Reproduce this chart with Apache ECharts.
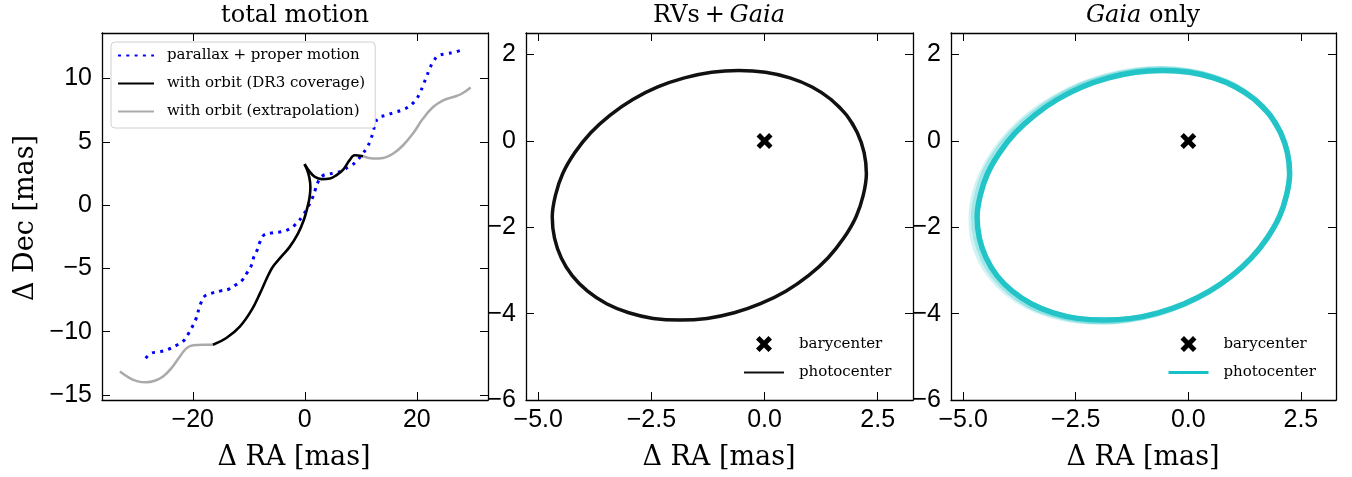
<!DOCTYPE html>
<html><head><meta charset="utf-8">
<script src="https://cdn.jsdelivr.net/npm/echarts@6/dist/echarts.min.js"></script>
<style>html,body{margin:0;padding:0;background:#fff}#c{width:1352px;height:477px}</style>
</head><body><div id="c"></div>
<script>
// ---- data ----
const pmTrack = [[-28.4,-12.1],[-27.4,-11.7],[-25.9,-11.6],[-24.4,-11.4],[-23.0,-11.1],[-21.8,-10.8],[-20.9,-10.25],[-20.2,-9.7],[-19.5,-9.07],[-18.6,-7.8],[-17.9,-7.2],[-16.7,-6.97],[-15.05,-6.78],[-13.6,-6.65],[-12.3,-6.3],[-11.1,-5.9],[-10.3,-5.34],[-9.5,-4.73],[-9.1,-4.1],[-8.45,-3.5],[-8.0,-2.9],[-7.3,-2.37],[-5.7,-2.18],[-4.2,-2.1],[-2.8,-1.9],[-1.6,-1.5],[-0.5,-0.92],[0.5,-0.2],[1.3,0.5],[1.9,1.25],[2.5,1.95],[3.3,2.35],[4.3,2.45],[5.3,2.55],[6.55,2.7],[8.0,3.07],[9.1,3.4],[10.1,3.94],[11.0,4.47],[11.7,5.1],[12.2,5.8],[12.5,6.3],[13.1,6.9],[14.5,7.1],[15.8,7.3],[17.3,7.5],[18.45,7.75],[19.6,8.2],[20.5,8.8],[21.1,9.46],[21.7,10.1],[22.3,10.8],[22.9,11.3],[23.8,11.8],[25.3,11.96],[26.8,12.1],[28.3,12.3]];
const orbitDR3Rise = [[-16.4,-11.04],[-14.0,-10.5],[-11.6,-9.6],[-9.5,-8.3],[-8.0,-6.97],[-6.8,-5.8],[-5.7,-4.87],[-4.2,-4.07],[-2.7,-3.3],[-1.2,-2.23],[-0.18,-1.18],[0.45,-0.2],[0.85,0.6],[1.0,1.44],[0.8,2.2],[0.35,2.85],[-0.05,3.23]];
const orbitDR3Loop = [[-0.05,3.23],[0.9,2.63],[1.8,2.23],[3.0,2.05],[4.5,2.1],[5.65,2.37],[6.85,2.8],[8.0,3.55],[8.9,3.94],[10.4,3.86]];
const orbitExtrapBefore = [[-33.0,-13.15],[-31.25,-13.67],[-29.8,-13.93],[-28.3,-14.0],[-26.8,-13.88],[-25.3,-13.54],[-23.8,-12.88],[-22.3,-11.96],[-21.1,-11.3],[-19.9,-11.07],[-18.2,-11.04],[-16.4,-11.04]];
const orbitExtrapAfter = [[10.4,3.86],[12.2,3.68],[14.0,3.73],[15.8,4.08],[17.55,4.73],[19.3,5.65],[21.1,6.84],[22.9,7.75],[24.7,8.28],[26.5,8.54],[28.0,8.8],[29.6,9.3]];
// photocenter orbit (closed loop; first points repeated so the smoothed loop has no seam)
const photocenterOrbit = [[2.05,0.19],[1.81,0.60],[1.47,0.96],[1.05,1.25],[0.56,1.46],[0.02,1.59],[-0.57,1.63],[-1.17,1.59],[-1.77,1.46],[-2.36,1.25],[-2.91,0.96],[-3.41,0.60],[-3.84,0.19],[-4.19,-0.27],[-4.46,-0.76],[-4.62,-1.26],[-4.69,-1.76],[-4.64,-2.25],[-4.49,-2.71],[-4.25,-3.12],[-3.91,-3.48],[-3.49,-3.77],[-3.00,-3.98],[-2.46,-4.11],[-1.87,-4.15],[-1.27,-4.11],[-0.67,-3.98],[-0.09,-3.77],[0.47,-3.48],[0.97,-3.12],[1.40,-2.71],[1.75,-2.25],[2.02,-1.76],[2.18,-1.26],[2.25,-0.76],[2.20,-0.27],[2.05,0.19],[1.81,0.60],[1.47,0.96]];
// spread of the Gaia-only posterior orbits (closed loops)
const gaiaOrbitMid = [[2.05,0.20],[1.80,0.62],[1.46,0.98],[1.04,1.28],[0.54,1.49],[-0.01,1.62],[-0.60,1.67],[-1.21,1.62],[-1.82,1.49],[-2.41,1.28],[-2.97,0.98],[-3.47,0.62],[-3.91,0.20],[-4.27,-0.26],[-4.54,-0.75],[-4.70,-1.26],[-4.77,-1.77],[-4.72,-2.26],[-4.57,-2.72],[-4.32,-3.14],[-3.98,-3.50],[-3.56,-3.80],[-3.06,-4.01],[-2.51,-4.14],[-1.92,-4.19],[-1.31,-4.14],[-0.70,-4.01],[-0.11,-3.80],[0.45,-3.50],[0.95,-3.14],[1.39,-2.72],[1.75,-2.26],[2.02,-1.77],[2.18,-1.26],[2.25,-0.75],[2.20,-0.26],[2.05,0.20]];
const gaiaOrbitOuter = [[2.06,0.22],[1.80,0.65],[1.46,1.01],[1.03,1.31],[0.52,1.53],[-0.03,1.66],[-0.63,1.70],[-1.25,1.66],[-1.86,1.53],[-2.46,1.31],[-3.03,1.01],[-3.54,0.65],[-3.99,0.22],[-4.35,-0.25],[-4.62,-0.75],[-4.79,-1.26],[-4.85,-1.77],[-4.81,-2.27],[-4.66,-2.74],[-4.40,-3.17],[-4.06,-3.53],[-3.63,-3.83],[-3.12,-4.05],[-2.57,-4.18],[-1.97,-4.22],[-1.35,-4.18],[-0.74,-4.05],[-0.14,-3.83],[0.43,-3.53],[0.94,-3.17],[1.39,-2.74],[1.75,-2.27],[2.02,-1.77],[2.19,-1.26],[2.25,-0.75],[2.21,-0.25],[2.06,0.22]];
const barycenter = [[0,0]];
const motionTicksX = [-20,0,20];
const motionTicksY = [-15,-10,-5,0,5,10];
const orbitTicksX = [-5,-2.5,0,2.5];
const orbitTicksY = [-6,-4,-2,0,2];

// ---- helpers ----
const MINUS = '\u2212';
const fmt = d => v => (v < 0 ? MINUS : '') + Math.abs(v).toFixed(d);
const TICKFONT = {fontFamily:'Liberation Sans', fontSize:25, color:'#000'};
const SERIF = 'DejaVu Serif';
const XMARK = 'path://M0,3.5 L3.5,0 L8,4.5 L12.5,0 L16,3.5 L11.5,8 L16,12.5 L12.5,16 L8,11.5 L3.5,16 L0,12.5 L4.5,8 Z';
const CYAN = '#1cc3c6';

function axisPair(kind, gi, min, max, ticks, d) {
  const base = () => ({
    type:'value', gridIndex:gi, min:min, max:max, scale:true,
    splitLine:{show:false},
    axisLine:{show:true, onZero:false, lineStyle:{color:'#000', width:1.3}},
    axisTick:{show:true, inside:true, length:8, lineStyle:{color:'#000', width:1}, customValues:ticks}
  });
  const a = base(), b = base();
  if (kind === 'x') { a.position = 'bottom'; b.position = 'top'; }
  else { a.position = 'left'; b.position = 'right'; }
  a.axisLabel = Object.assign({show:true, customValues:ticks, formatter:fmt(d), margin:kind==='x'?8:10}, TICKFONT);
  b.axisLabel = {show:false};
  return [a, b];
}

const grids = [
  {left:102, top:33, width:386, height:367},
  {left:526, top:33, width:387, height:367},
  {left:951, top:33, width:385, height:367}
];
const xAxis = [].concat(
  axisPair('x', 0, -36.2, 32.7, motionTicksX, 0),
  axisPair('x', 1, -5.27, 3.28, orbitTicksX, 1),
  axisPair('x', 2, -5.27, 3.28, orbitTicksX, 1)
);
const yAxis = [].concat(
  axisPair('y', 0, -15.4, 13.6, motionTicksY, 0),
  axisPair('y', 1, -6, 2.5, orbitTicksY, 0),
  axisPair('y', 2, -6, 2.5, orbitTicksY, 0)
);

const lineSeries = (name, data, xi, color, width, extra) => Object.assign({
  type:'line', name:name, data:data, xAxisIndex:xi, yAxisIndex:xi,
  symbol:'none', smooth:0.3, lineStyle:{color:color, width:width}, itemStyle:{color:color}
}, extra || {});

const series = [
  lineSeries('with orbit (extrapolation)', orbitExtrapBefore, 0, '#aaaaaa', 2.5, {smooth:0.4}),
  lineSeries('with orbit (extrapolation)', orbitExtrapAfter, 0, '#aaaaaa', 2.5, {smooth:0.4}),
  lineSeries('parallax + proper motion', pmTrack, 0, '#0000ff', 3, {smooth:0.4, lineStyle:{color:'#0000ff', width:3, type:[3,5.3]}}),
  lineSeries('with orbit (DR3 coverage)', orbitDR3Rise, 0, '#000000', 2.6, {smooth:0.4}),
  lineSeries('with orbit (DR3 coverage)', orbitDR3Loop, 0, '#000000', 2.6, {smooth:0.4}),
  // panel 2
  lineSeries('photocenter', photocenterOrbit, 2, '#111111', 3.5),
  {type:'scatter', name:'barycenter', data:barycenter, xAxisIndex:2, yAxisIndex:2, symbol:XMARK, symbolSize:16, itemStyle:{color:'#000', opacity:1}, z:5},
  // panel 3
  lineSeries('gaiaOuter', gaiaOrbitOuter, 4, CYAN, 3, {lineStyle:{color:CYAN, width:3, opacity:0.2}}),
  lineSeries('gaiaMid', gaiaOrbitMid, 4, CYAN, 5, {lineStyle:{color:CYAN, width:5, opacity:0.4}}),
  lineSeries('photocenter ', photocenterOrbit, 4, CYAN, 5.5, {lineStyle:{color:'#22c4c7', width:5.5, opacity:1}}),
  {type:'scatter', name:'barycenter ', data:barycenter, xAxisIndex:4, yAxisIndex:4, symbol:XMARK, symbolSize:16, itemStyle:{color:'#000', opacity:1}, z:5}
];

const noDot = name => ({name:name, itemStyle:{opacity:0}});
const legendText = {fontFamily:SERIF, fontSize:15, color:'#000', padding:[0,0,0,8]};
const legend = [
  {orient:'vertical', left:111, top:42, itemWidth:36, itemHeight:14, itemGap:13, padding:[6,10,9,6],
   borderColor:'#d0d0d0', borderWidth:1, borderRadius:4, backgroundColor:'rgba(255,255,255,0.85)',
   selectedMode:false, textStyle:legendText,
   data:[noDot('parallax + proper motion'), noDot('with orbit (DR3 coverage)'), noDot('with orbit (extrapolation)')]},
  {orient:'vertical', left:743, top:336, itemWidth:40, itemHeight:16, itemGap:13, padding:0,
   selectedMode:false, textStyle:Object.assign({}, legendText, {padding:[0,0,0,10]}),
   data:['barycenter', noDot('photocenter')]},
  {orient:'vertical', left:1167, top:336, itemWidth:40, itemHeight:16, itemGap:13, padding:0,
   selectedMode:false, formatter: n => n.trim(),
   textStyle:Object.assign({}, legendText, {padding:[0,0,0,10]}),
   data:['barycenter ', {name:'photocenter ', itemStyle:{opacity:0}, lineStyle:{width:3, color:'#16c2c8', opacity:1}}]}
];

const txt = (x, y, text, size, extra) => ({
  type:'text', x:x, y:y, silent:true, z:100,
  style:Object.assign({text:text, fontFamily:SERIF, fontSize:size, fill:'#000', align:'center', verticalAlign:'middle',
    rich:{i:{fontFamily:SERIF, fontSize:size, fontStyle:'italic', fill:'#000'}, r:{fontFamily:SERIF, fontSize:size, fill:'#000'}}}, extra || {})
});
const graphic = [
  txt(295, 16, 'total motion', 24),
  txt(719, 16, '{r|RVs\u2009+\u2009}{i|Gaia}', 24),
  txt(1143, 16, '{i|Gaia}{r| only}', 24),
  txt(294, 458, '\u0394 RA [mas]', 27),
  txt(719, 458, '\u0394 RA [mas]', 27),
  txt(1143, 458, '\u0394 RA [mas]', 27),
  Object.assign(txt(26, 218, '\u0394 Dec [mas]', 27), {rotation:Math.PI/2})
];

const chart = echarts.init(document.getElementById('c'), null, {renderer:'canvas'});
chart.setOption({animation:false, backgroundColor:'#fff', grid:grids, xAxis:xAxis, yAxis:yAxis, series:series, legend:legend, graphic:graphic});
</script></body></html>
